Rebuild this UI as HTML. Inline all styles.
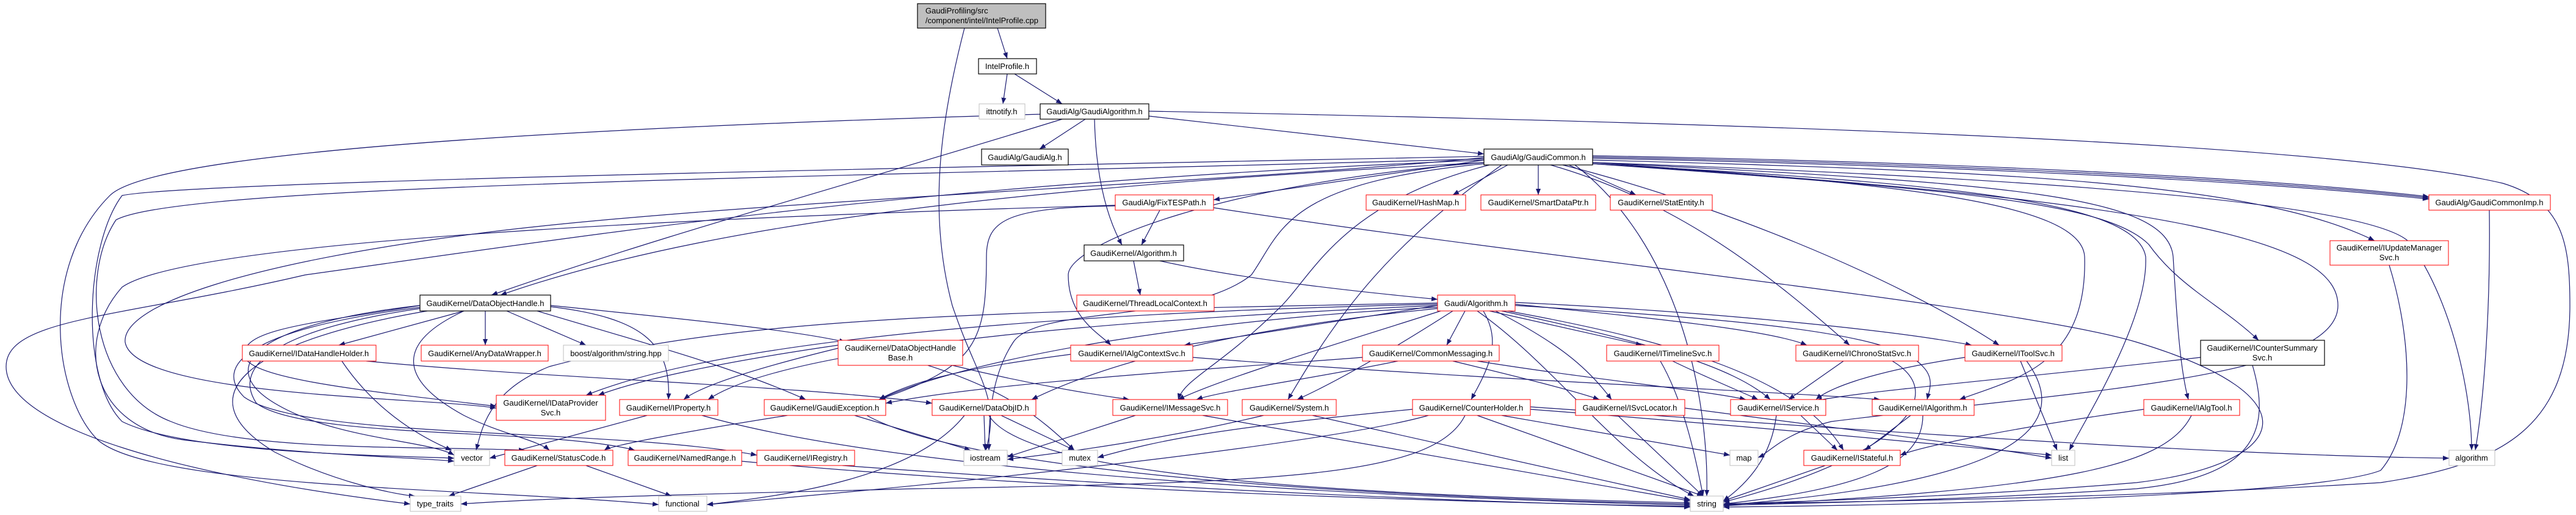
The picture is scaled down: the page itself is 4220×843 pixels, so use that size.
<!DOCTYPE html>
<html><head><meta charset="utf-8"><style>
html,body{margin:0;padding:0;background:#fff}
svg{display:block}
text{font-family:"Liberation Sans",Arial,sans-serif;font-size:13px;fill:#000;text-anchor:middle}
.e{fill:none;stroke:#191970;stroke-width:1.2;marker-end:url(#a)}
.r{fill:#fff;stroke:#ff0000;stroke-width:1}
.k{fill:#fff;stroke:#000;stroke-width:1.2}
.g{fill:#fff;stroke:#bfbfbf;stroke-width:1}
</style></head><body>
<svg width="4220" height="843" viewBox="0 0 4220 843" xmlns="http://www.w3.org/2000/svg">
<defs><marker id="a" markerUnits="userSpaceOnUse" markerWidth="11" markerHeight="8" refX="10" refY="4" orient="auto"><path d="M0,0 L10,4 L0,8 z" fill="#191970"/></marker></defs>
<g>
<path class="e" d="M1634,46 L1650,96"/>
<path class="e" d="M1580,46 C1540,200 1520,350 1560,500 C1600,620 1640,650 1615,737"/>
<path class="e" d="M1650,121 L1643,170"/>
<path class="e" d="M1662,121 L1740,170"/>
<path class="e" d="M1778,195 L1703,244"/>
<path class="e" d="M1882,190 L2431,252"/>
<path class="e" d="M1793,195 C1795,280 1810,350 1838,401"/>
<path class="e" d="M1740,195 C1400,300 1100,380 805,483"/>
<path class="e" d="M1882,182 C2800,200 3800,230 4100,300 C4200,330 4210,400 4210,500 C4210,700 4100,760 3900,790 C3500,815 3000,822 2823,825"/>
<path class="e" d="M1704,187 C900,210 250,250 180,320 C60,440 90,650 160,720 C250,800 800,800 1079,826"/>
<path class="e" d="M2431,262 L1988,327"/>
<path class="e" d="M2470,270 L2380,319"/>
<path class="e" d="M2520,270 L2520,319"/>
<path class="e" d="M2570,270 L2680,319"/>
<path class="e" d="M2609,255 C3200,265 3700,290 3979,322"/>
<path class="e" d="M2609,257 C3200,268 3700,293 3979,324"/>
<path class="e" d="M2609,259 C3200,271 3700,296 3979,326"/>
<path class="e" d="M2609,262 C3300,280 3700,300 3890,394"/>
<path class="e" d="M2609,266 C3300,290 3900,330 3950,400 C4020,500 4049,650 4049,737"/>
<path class="e" d="M2580,270 C2750,400 2800,650 2796,812"/>
<path class="e" d="M2609,268 C3200,310 3450,330 3520,400 C3570,470 3640,500 3700,557"/>
<path class="e" d="M2609,266 C3300,300 3550,320 3560,420 C3565,500 3570,600 3585,654"/>
<path class="e" d="M2609,268 C3200,300 3500,330 3515,420 C3520,520 3420,680 3390,737"/>
<path class="e" d="M2560,270 C2800,330 3100,450 3275,565"/>
<path class="e" d="M2540,270 C2750,330 2900,450 3030,565"/>
<path class="e" d="M2609,266 C3100,300 3410,330 3415,420 C3420,600 3300,620 3210,654"/>
<path class="e" d="M2609,268 C3600,330 3830,400 3830,500 C3830,620 3400,640 3000,690 C2920,710 2900,740 2880,749"/>
<path class="e" d="M2431,266 C2000,300 1750,400 1750,450 C1750,520 1800,545 1820,565"/>
<path class="e" d="M2440,270 C2200,330 2150,450 2100,500 C2000,600 1940,620 1930,654"/>
<path class="e" d="M2460,270 C2280,400 2200,500 2110,654"/>
<path class="e" d="M2431,266 C1800,300 1200,350 820,483"/>
<path class="e" d="M2431,268 C2100,300 2100,380 2050,450 C1950,530 1700,500 1660,560 C1620,620 1620,700 1620,737"/>
<path class="e" d="M2431,256 C1200,280 300,300 200,320 C140,400 130,620 200,690 C300,740 600,745 744,750"/>
<path class="e" d="M2431,262 C1500,300 1000,380 500,450 C200,520 10,520 10,600 C10,700 300,780 672,825"/>
<path class="e" d="M2431,258 C2000,300 1200,330 800,380 C400,430 200,500 205,560 C220,650 700,650 813,668"/>
<path class="e" d="M2431,260 C1400,290 300,300 190,360 C130,450 150,640 280,690 C400,740 700,730 860,737"/>
<path class="e" d="M1827,337 C1650,340 1616,360 1616,420 C1616,560 1600,600 1440,654"/>
<path class="e" d="M1900,344 L1870,401"/>
<path class="e" d="M1988,340 C2500,420 3300,500 3500,560 C3800,650 3750,760 3500,790 C3200,815 2900,822 2823,825"/>
<path class="e" d="M1827,336 C1000,360 300,400 200,470 C120,560 150,700 300,720 C500,745 700,750 744,755"/>
<path class="e" d="M1857,427 L1868,483"/>
<path class="e" d="M1900,427 C2050,460 2250,480 2355,490"/>
<path class="e" d="M2355,500 L1940,565"/>
<path class="e" d="M2400,509 L2370,565"/>
<path class="e" d="M2440,509 L2690,565"/>
<path class="e" d="M2482,498 C2700,520 2900,540 2960,565"/>
<path class="e" d="M2482,495 C2800,510 3100,540 3230,565"/>
<path class="e" d="M2460,509 C2700,560 2840,600 2900,654"/>
<path class="e" d="M2482,500 C2800,520 3100,540 3150,600 C3170,620 3160,640 3157,654"/>
<path class="e" d="M2470,509 C2750,560 2950,620 3020,737"/>
<path class="e" d="M2430,509 C2460,560 2440,600 2410,654"/>
<path class="e" d="M2450,509 C2550,560 2600,600 2640,654"/>
<path class="e" d="M2380,509 C2300,560 2200,620 2125,654"/>
<path class="e" d="M2360,509 C2200,560 2000,620 1930,654"/>
<path class="e" d="M2355,505 C2000,540 1800,600 1690,654"/>
<path class="e" d="M2355,503 C2000,520 1600,580 1440,654"/>
<path class="e" d="M2355,500 C1900,520 1300,560 1160,654"/>
<path class="e" d="M2355,498 C1800,510 1200,550 960,647"/>
<path class="e" d="M2355,496 C1600,510 1200,520 900,600 C800,640 790,700 780,737"/>
<path class="e" d="M2420,509 C2550,600 2650,750 2775,812"/>
<path class="e" d="M760,509 L555,565"/>
<path class="e" d="M795,509 L795,565"/>
<path class="e" d="M830,509 L960,565"/>
<path class="e" d="M902,500 C1100,520 1300,540 1385,560"/>
<path class="e" d="M688,500 C500,530 400,540 400,580 C400,620 600,640 813,665"/>
<path class="e" d="M902,502 C1050,520 1100,560 1095,654"/>
<path class="e" d="M880,509 C1050,560 1200,600 1320,654"/>
<path class="e" d="M760,509 C650,560 650,620 760,680 C820,710 880,720 900,737"/>
<path class="e" d="M688,505 C450,540 380,600 420,660 C500,720 900,700 1040,737"/>
<path class="e" d="M688,503 C400,540 350,600 400,650 C500,720 1000,700 1240,745"/>
<path class="e" d="M700,509 C400,560 300,650 450,740 C550,790 650,810 680,812"/>
<path class="e" d="M688,500 C420,530 350,600 450,660 C550,720 700,720 744,745"/>
<path class="e" d="M560,591 C620,680 700,720 740,737"/>
<path class="e" d="M600,591 C900,620 1300,630 1527,660"/>
<path class="e" d="M1373,570 C1250,600 1150,630 1120,654"/>
<path class="e" d="M1373,565 C1200,590 1050,620 980,647"/>
<path class="e" d="M1560,598 C1650,620 1750,640 1850,654"/>
<path class="e" d="M1520,598 C1650,640 1700,680 1760,737"/>
<path class="e" d="M1754,580 C1600,600 1500,620 1440,654"/>
<path class="e" d="M1954,585 C2400,620 2900,640 3080,654"/>
<path class="e" d="M2290,591 C2150,620 2000,640 1960,654"/>
<path class="e" d="M2380,591 C2500,620 2580,640 2620,654"/>
<path class="e" d="M2420,591 C2600,620 2800,640 2860,654"/>
<path class="e" d="M2232,585 C1900,610 1600,630 1451,660"/>
<path class="e" d="M2720,591 C2760,660 2780,760 2790,812"/>
<path class="e" d="M2740,591 C2800,620 2850,640 2880,654"/>
<path class="e" d="M3020,591 L2930,654"/>
<path class="e" d="M3100,591 C3200,650 3100,750 2823,822"/>
<path class="e" d="M3310,591 L3370,737"/>
<path class="e" d="M3320,591 C3400,700 3300,790 2823,827"/>
<path class="e" d="M3219,585 C3050,610 2990,640 2975,654"/>
<path class="e" d="M3605,585 C3300,620 3050,640 2975,656"/>
<path class="e" d="M3690,598 C3720,700 3700,780 3500,800 C3200,820 2900,825 2823,827"/>
<path class="e" d="M2950,680 L3010,737"/>
<path class="e" d="M2910,680 C2900,760 2850,800 2823,820"/>
<path class="e" d="M3130,680 L3055,737"/>
<path class="e" d="M3150,680 C3150,760 3050,800 2823,825"/>
<path class="e" d="M3512,670 C3300,700 3150,730 3113,745"/>
<path class="e" d="M3590,680 C3550,760 3400,800 2823,828"/>
<path class="e" d="M2990,762 L2823,820"/>
<path class="e" d="M3914,434 C3950,550 3960,700 3900,770 C3800,810 3200,826 2823,830"/>
<path class="e" d="M4078,344 C4080,500 4070,650 4055,737"/>
<path class="e" d="M2507,666 C3000,700 3600,745 4012,750"/>
<path class="e" d="M2507,670 C2900,700 3200,730 3361,745"/>
<path class="e" d="M2460,680 L2834,745"/>
<path class="e" d="M2314,670 C2000,700 1900,720 1798,749"/>
<path class="e" d="M2420,680 L2790,812"/>
<path class="e" d="M2400,680 C2350,780 2100,790 1500,800 C1100,810 900,815 755,825"/>
<path class="e" d="M2340,680 C2200,720 1700,780 1158,826"/>
<path class="e" d="M2650,680 L2790,812"/>
<path class="e" d="M2760,668 C3000,700 3250,730 3361,750"/>
<path class="e" d="M1860,680 L1650,748"/>
<path class="e" d="M1970,680 L2769,820"/>
<path class="e" d="M2150,680 L2769,818"/>
<path class="e" d="M2070,680 C1900,720 1750,740 1650,752"/>
<path class="e" d="M1612,680 L1614,737"/>
<path class="e" d="M1640,680 L1760,737"/>
<path class="e" d="M1620,680 C1680,780 2200,810 2769,823"/>
<path class="e" d="M1580,680 C1500,780 1300,810 1158,826"/>
<path class="e" d="M1400,680 L1590,737"/>
<path class="e" d="M1420,680 C1600,780 2300,815 2769,825"/>
<path class="e" d="M1290,680 C1100,710 1000,730 990,737"/>
<path class="e" d="M1060,680 L802,750"/>
<path class="e" d="M1150,680 C1500,780 2300,815 2769,827"/>
<path class="e" d="M1215,755 C1700,800 2300,820 2769,829"/>
<path class="e" d="M880,762 L735,812"/>
<path class="e" d="M960,762 L1100,812"/>
<path class="e" d="M1380,762 C1900,800 2400,822 2769,830"/>
</g>
<g>
<rect x="1503" y="6" width="210" height="40" fill="#bfbfbf" stroke="#000" stroke-width="1.2"/>
<text x="1516" y="22" style="text-anchor:start">GaudiProfiling/src</text>
<text x="1516" y="38" style="text-anchor:start">/component/intel/IntelProfile.cpp</text>
<rect class="k" x="1603" y="96" width="95" height="25"/><text x="1650" y="113">IntelProfile.h</text>
<rect class="g" x="1604" y="170" width="75" height="25"/><text x="1641" y="187">ittnotify.h</text>
<rect class="k" x="1704" y="170" width="178" height="25"/><text x="1793" y="187">GaudiAlg/GaudiAlgorithm.h</text>
<rect class="k" x="1608" y="244" width="142" height="26"/><text x="1679" y="262">GaudiAlg/GaudiAlg.h</text>
<rect class="k" x="2431" y="244" width="178" height="26"/><text x="2520" y="262">GaudiAlg/GaudiCommon.h</text>
<rect class="r" x="1827" y="319" width="161" height="25"/><text x="1907" y="336">GaudiAlg/FixTESPath.h</text>
<rect class="r" x="2238" y="319" width="163" height="25"/><text x="2319" y="336">GaudiKernel/HashMap.h</text>
<rect class="r" x="2426" y="319" width="188" height="25"/><text x="2520" y="336">GaudiKernel/SmartDataPtr.h</text>
<rect class="r" x="2638" y="319" width="167" height="25"/><text x="2721" y="336">GaudiKernel/StatEntity.h</text>
<rect class="r" x="3979" y="319" width="199" height="25"/><text x="4078" y="336">GaudiAlg/GaudiCommonImp.h</text>
<rect class="k" x="1776" y="401" width="163" height="26"/><text x="1857" y="419">GaudiKernel/Algorithm.h</text>
<rect class="r" x="3817" y="394" width="194" height="40"/><text x="3914" y="410">GaudiKernel/IUpdateManager</text><text x="3914" y="426">Svc.h</text>
<rect class="r" x="1764" y="483" width="225" height="26"/><text x="1876" y="501">GaudiKernel/ThreadLocalContext.h</text>
<rect class="r" x="2355" y="483" width="127" height="26"/><text x="2418" y="501">Gaudi/Algorithm.h</text>
<rect class="k" x="688" y="483" width="214" height="26"/><text x="795" y="501">GaudiKernel/DataObjectHandle.h</text>
<rect class="r" x="397" y="565" width="219" height="26"/><text x="506" y="583">GaudiKernel/IDataHandleHolder.h</text>
<rect class="r" x="690" y="565" width="208" height="26"/><text x="794" y="583">GaudiKernel/AnyDataWrapper.h</text>
<rect class="g" x="923" y="565" width="172" height="26"/><text x="1009" y="583">boost/algorithm/string.hpp</text>
<rect class="r" x="1373" y="557" width="204" height="41"/><text x="1475" y="574">GaudiKernel/DataObjectHandle</text><text x="1475" y="590">Base.h</text>
<rect class="r" x="1754" y="565" width="200" height="26"/><text x="1854" y="583">GaudiKernel/IAlgContextSvc.h</text>
<rect class="r" x="2232" y="565" width="224" height="26"/><text x="2344" y="583">GaudiKernel/CommonMessaging.h</text>
<rect class="r" x="2632" y="565" width="184" height="26"/><text x="2724" y="583">GaudiKernel/ITimelineSvc.h</text>
<rect class="r" x="2942" y="565" width="201" height="26"/><text x="3042" y="583">GaudiKernel/IChronoStatSvc.h</text>
<rect class="r" x="3219" y="565" width="159" height="26"/><text x="3298" y="583">GaudiKernel/IToolSvc.h</text>
<rect class="k" x="3605" y="557" width="203" height="41"/><text x="3706" y="574">GaudiKernel/ICounterSummary</text><text x="3706" y="590">Svc.h</text>
<rect class="r" x="813" y="647" width="179" height="41"/><text x="902" y="664">GaudiKernel/IDataProvider</text><text x="902" y="680">Svc.h</text>
<rect class="r" x="1015" y="654" width="161" height="26"/><text x="1095" y="672">GaudiKernel/IProperty.h</text>
<rect class="r" x="1252" y="654" width="199" height="26"/><text x="1351" y="672">GaudiKernel/GaudiException.h</text>
<rect class="r" x="1527" y="654" width="170" height="26"/><text x="1612" y="672">GaudiKernel/DataObjID.h</text>
<rect class="r" x="1823" y="654" width="188" height="26"/><text x="1917" y="672">GaudiKernel/IMessageSvc.h</text>
<rect class="r" x="2035" y="654" width="154" height="26"/><text x="2112" y="672">GaudiKernel/System.h</text>
<rect class="r" x="2314" y="654" width="193" height="26"/><text x="2410" y="672">GaudiKernel/CounterHolder.h</text>
<rect class="r" x="2581" y="654" width="179" height="26"/><text x="2670" y="672">GaudiKernel/ISvcLocator.h</text>
<rect class="r" x="2835" y="654" width="156" height="26"/><text x="2913" y="672">GaudiKernel/IService.h</text>
<rect class="r" x="3067" y="654" width="167" height="26"/><text x="3150" y="672">GaudiKernel/IAlgorithm.h</text>
<rect class="r" x="3512" y="654" width="157" height="26"/><text x="3590" y="672">GaudiKernel/IAlgTool.h</text>
<rect class="g" x="744" y="737" width="58" height="25"/><text x="773" y="754">vector</text>
<rect class="r" x="827" y="737" width="177" height="25"/><text x="915" y="754">GaudiKernel/StatusCode.h</text>
<rect class="r" x="1029" y="737" width="186" height="25"/><text x="1122" y="754">GaudiKernel/NamedRange.h</text>
<rect class="r" x="1240" y="737" width="160" height="25"/><text x="1320" y="754">GaudiKernel/IRegistry.h</text>
<rect class="g" x="1579" y="737" width="71" height="25"/><text x="1614" y="754">iostream</text>
<rect class="g" x="1740" y="737" width="58" height="25"/><text x="1769" y="754">mutex</text>
<rect class="g" x="2834" y="737" width="46" height="25"/><text x="2857" y="754">map</text>
<rect class="r" x="2955" y="737" width="158" height="25"/><text x="3034" y="754">GaudiKernel/IStateful.h</text>
<rect class="g" x="3361" y="737" width="38" height="25"/><text x="3380" y="754">list</text>
<rect class="g" x="4012" y="737" width="75" height="25"/><text x="4049" y="754">algorithm</text>
<rect class="g" x="672" y="812" width="83" height="25"/><text x="713" y="829">type_traits</text>
<rect class="g" x="1079" y="812" width="79" height="25"/><text x="1118" y="829">functional</text>
<rect class="g" x="2769" y="812" width="54" height="25"/><text x="2796" y="829">string</text>
</g>
</svg>
</body></html>
